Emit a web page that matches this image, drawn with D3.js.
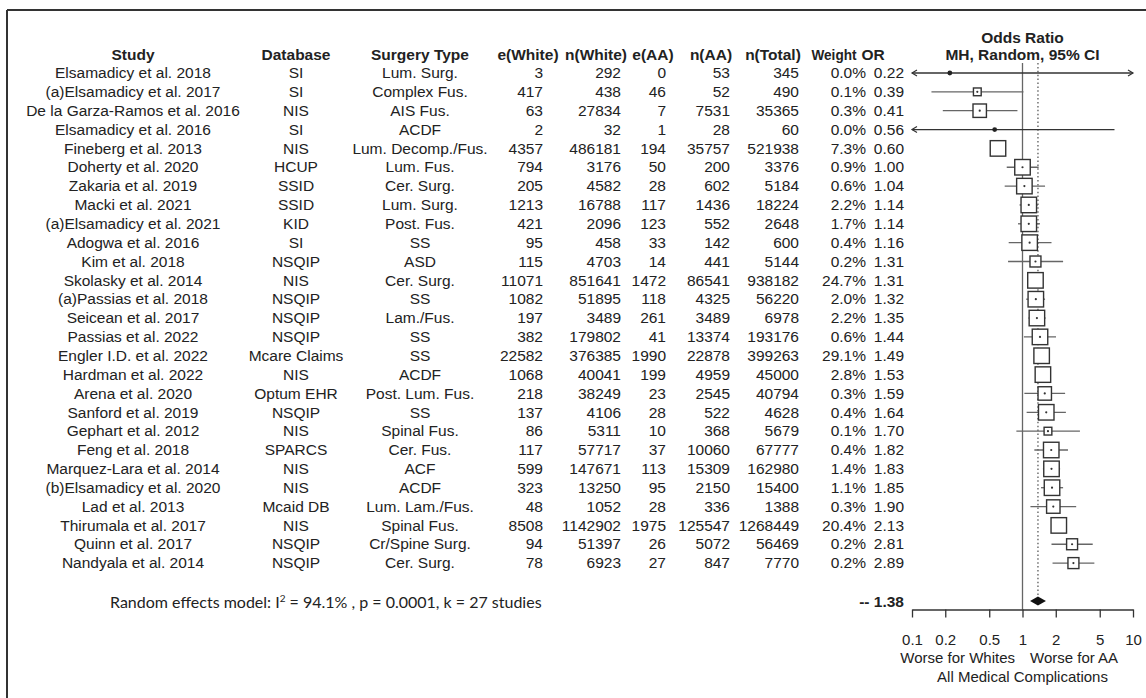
<!DOCTYPE html>
<html>
<head>
<meta charset="utf-8">
<script src="https://cdn.jsdelivr.net/npm/d3@7"></script>
<style>
  html, body { margin: 0; padding: 0; background: #fff; }
  svg { display: block; }
  text { font-family: "Liberation Sans", Arial, sans-serif; fill: #222; }
</style>
</head>
<body>
<svg id="chart" width="1146" height="698"></svg>
<script>
// ---- Study-level data ----
const studies = [
  "Elsamadicy et al. 2018", "(a)Elsamadicy et al. 2017", "De la Garza-Ramos et al. 2016",
  "Elsamadicy et al. 2016", "Fineberg et al. 2013", "Doherty et al. 2020", "Zakaria et al. 2019",
  "Macki et al. 2021", "(a)Elsamadicy et al. 2021", "Adogwa et al. 2016", "Kim et al. 2018",
  "Skolasky et al. 2014", "(a)Passias et al. 2018", "Seicean et al. 2017", "Passias et al. 2022",
  "Engler I.D. et al. 2022", "Hardman et al. 2022", "Arena et al. 2020", "Sanford et al. 2019",
  "Gephart et al. 2012", "Feng et al. 2018", "Marquez-Lara et al. 2014", "(b)Elsamadicy et al. 2020",
  "Lad et al. 2013", "Thirumala et al. 2017", "Quinn et al. 2017", "Nandyala et al. 2014"
];
const databases = [
  "SI", "SI", "NIS", "SI", "NIS", "HCUP", "SSID", "SSID", "KID", "SI", "NSQIP", "NIS", "NSQIP",
  "NSQIP", "NSQIP", "Mcare Claims", "NIS", "Optum EHR", "NSQIP", "NIS", "SPARCS", "NIS", "NIS",
  "Mcaid DB", "NIS", "NSQIP", "NSQIP"
];
const surgeryTypes = [
  "Lum. Surg.", "Complex Fus.", "AIS Fus.", "ACDF", "Lum. Decomp./Fus.", "Lum. Fus.", "Cer. Surg.",
  "Lum. Surg.", "Post. Fus.", "SS", "ASD", "Cer. Surg.", "SS", "Lam./Fus.", "SS", "SS", "ACDF",
  "Post. Lum. Fus.", "SS", "Spinal Fus.", "Cer. Fus.", "ACF", "ACDF", "Lum. Lam./Fus.",
  "Spinal Fus.", "Cr/Spine Surg.", "Cer. Surg."
];
const eWhite = [3, 417, 63, 2, 4357, 794, 205, 1213, 421, 95, 115, 11071, 1082, 197, 382, 22582,
  1068, 218, 137, 86, 117, 599, 323, 48, 8508, 94, 78];
const nWhite = [292, 438, 27834, 32, 486181, 3176, 4582, 16788, 2096, 458, 4703, 851641, 51895,
  3489, 179802, 376385, 40041, 38249, 4106, 5311, 57717, 147671, 13250, 1052, 1142902, 51397, 6923];
const eAA = [0, 46, 7, 1, 194, 50, 28, 117, 123, 33, 14, 1472, 118, 261, 41, 1990, 199, 23, 28, 10,
  37, 113, 95, 28, 1975, 26, 27];
const nAA = [53, 52, 7531, 28, 35757, 200, 602, 1436, 552, 142, 441, 86541, 4325, 3489, 13374,
  22878, 4959, 2545, 522, 368, 10060, 15309, 2150, 336, 125547, 5072, 847];
const nTotal = [345, 490, 35365, 60, 521938, 3376, 5184, 18224, 2648, 600, 5144, 938182, 56220,
  6978, 193176, 399263, 45000, 40794, 4628, 5679, 67777, 162980, 15400, 1388, 1268449, 56469, 7770];
const weights = [0.0, 0.1, 0.3, 0.0, 7.3, 0.9, 0.6, 2.2, 1.7, 0.4, 0.2, 24.7, 2.0, 2.2, 0.6, 29.1,
  2.8, 0.3, 0.4, 0.1, 0.4, 1.4, 1.1, 0.3, 20.4, 0.2, 0.2];
const oddsRatios = [0.22, 0.39, 0.41, 0.56, 0.60, 1.00, 1.04, 1.14, 1.14, 1.16, 1.31, 1.31, 1.32,
  1.35, 1.44, 1.49, 1.53, 1.59, 1.64, 1.70, 1.82, 1.83, 1.85, 1.90, 2.13, 2.81, 2.89];
const ciLower = [0.01, 0.15, 0.19, 0.05, 0.54, 0.72, 0.69, 0.94, 0.91, 0.75, 0.74, 1.24, 1.08,
  1.13, 1.03, 1.42, 1.41, 1.04, 1.09, 0.88, 1.28, 1.53, 1.47, 1.18, 2.05, 1.83, 1.87];
const ciUpper = [12.5, 1.02, 0.90, 6.8, 0.66, 1.40, 1.60, 1.38, 1.44, 1.83, 2.33, 1.38, 1.60,
  1.62, 2.01, 1.56, 1.66, 2.43, 2.47, 3.31, 2.58, 2.19, 2.33, 3.06, 2.21, 4.32, 4.47];

// Pooled random-effects estimate
const summaryOR = 1.38, summaryLower = 1.17, summaryUpper = 1.63;
const axisTicks = [0.1, 0.2, 0.5, 1, 2, 5, 10];
const axisTickLabels = ["0.1", "0.2", "0.5", "1", "2", "5", "10"];

const headers = ["Study", "Database", "Surgery Type", "e(White)", "n(White)", "e(AA)", "n(AA)",
  "n(Total)", "Weight", "OR"];

// ---- Layout ----
const svg = d3.select("#chart");
const FS = 15.5;
const rowTop = 73, rowStep = 18.85;
const yRow = i => rowTop + i * rowStep;
const axisY = 609.5, plotTop = 63;

const x = d3.scaleLog().domain([0.1, 10]).range([912, 1133]);
const squareSize = d3.scaleSqrt().domain([0, 0.4]).range([0, 15.5]).clamp(true);

// Frame
svg.append("line").attr("x1", 7).attr("x2", 1146).attr("y1", 10).attr("y2", 10)
  .attr("stroke", "#333").attr("stroke-width", 2);
svg.append("line").attr("x1", 7).attr("x2", 7).attr("y1", 10).attr("y2", 698)
  .attr("stroke", "#333").attr("stroke-width", 2);

// Column definitions: header anchor, value anchor
const fmtW = d => d.toFixed(1) + "%";
const fmtOR = d => d.toFixed(2);
const columns = [
  { values: studies, hx: 133, vx: 133, anchor: "middle" },
  { values: databases, hx: 296, vx: 296, anchor: "middle" },
  { values: surgeryTypes, hx: 420, vx: 420, anchor: "middle" },
  { values: eWhite, hx: 528, vx: 543, anchor: "end" },
  { values: nWhite, hx: 596, vx: 621, anchor: "end" },
  { values: eAA, hx: 653, vx: 666, anchor: "end" },
  { values: nAA, hx: 711, vx: 730, anchor: "end" },
  { values: nTotal, hx: 773, vx: 799, anchor: "end" },
  { values: weights.map(fmtW), hx: 834, vx: 866, anchor: "end", hw: 45 },
  { values: oddsRatios.map(fmtOR), hx: 873, vx: 904, anchor: "end" }
];

const table = svg.append("g").attr("font-size", FS);
columns.forEach((col, ci) => {
  const h = table.append("text")
    .attr("x", col.hx).attr("y", 59.5)
    .attr("text-anchor", "middle")
    .attr("font-weight", "bold")
    .text(headers[ci]);
  if (col.hw) h.attr("textLength", col.hw).attr("lengthAdjust", "spacingAndGlyphs");
  table.selectAll(null)
    .data(col.values)
    .enter().append("text")
    .attr("x", col.vx)
    .attr("y", (d, i) => yRow(i) + 5.2)
    .attr("text-anchor", col.anchor)
    .text(d => d);
});

// Forest panel headings
svg.append("text").attr("x", 1022.5).attr("y", 42.5).attr("text-anchor", "middle")
  .attr("font-weight", "bold").attr("font-size", FS).text("Odds Ratio");
svg.append("text").attr("x", 1022.5).attr("y", 59.5).attr("text-anchor", "middle")
  .attr("font-weight", "bold").attr("font-size", FS).text("MH, Random, 95% CI");

// Reference lines: null effect and pooled estimate
svg.append("line").attr("x1", x(1)).attr("x2", x(1)).attr("y1", plotTop).attr("y2", axisY)
  .attr("stroke", "#666").attr("stroke-width", 1.3);
svg.append("line").attr("x1", x(summaryOR)).attr("x2", x(summaryOR))
  .attr("y1", plotTop).attr("y2", 596)
  .attr("stroke", "#666").attr("stroke-width", 1.4).attr("stroke-dasharray", "1.5,2.4");

// Study estimates
const [dMin, dMax] = x.domain();
const rows = studies.map((s, i) => ({
  i, or: oddsRatios[i], lo: ciLower[i], hi: ciUpper[i], w: weights[i]
}));
const marks = svg.append("g");
rows.forEach(r => {
  const y = yRow(r.i);
  const lo = Math.max(r.lo, dMin), hi = Math.min(r.hi, dMax);
  const xl = x(lo), xh = x(hi), xc = x(r.or);
  const g = marks.append("g");
  const lineColor = r.w === 0 ? "#333" : "#666";
  g.append("line").attr("x1", xl).attr("x2", xh).attr("y1", y).attr("y2", y)
    .attr("stroke", lineColor).attr("stroke-width", 1.3);
  if (r.lo < dMin) {
    g.append("path").attr("d", `M${xl + 5},${y - 3}L${xl},${y}L${xl + 5},${y + 3}`)
      .attr("fill", "none").attr("stroke", lineColor).attr("stroke-width", 1.2);
  }
  if (r.hi > dMax) {
    g.append("path").attr("d", `M${xh - 5},${y - 3}L${xh},${y}L${xh - 5},${y + 3}`)
      .attr("fill", "none").attr("stroke", lineColor).attr("stroke-width", 1.2);
  }
  const s = squareSize(r.w);
  if (s > 0) {
    g.append("rect").attr("x", xc - s / 2).attr("y", y - s / 2)
      .attr("width", s).attr("height", s)
      .attr("fill", "#fff").attr("stroke", "#333").attr("stroke-width", 1.4);
    // centre point only where the interval reaches past the box
    if (xl < xc - s / 2 || xh > xc + s / 2) {
      g.append("circle").attr("cx", xc).attr("cy", y).attr("r", 1.1).attr("fill", "#333");
    }
  } else {
    g.append("circle").attr("cx", xc).attr("cy", y).attr("r", 2.4).attr("fill", "#222");
  }
});

// Pooled estimate row
const ySum = 601;
svg.append("path")
  .attr("d", `M${x(summaryLower)},${ySum}L${x(summaryOR)},${ySum - 4.5}L${x(summaryUpper)},${ySum}L${x(summaryOR)},${ySum + 4.5}Z`)
  .attr("fill", "#111");
svg.append("text").attr("x", 904).attr("y", 606.5).attr("text-anchor", "end")
  .attr("font-weight", "bold").attr("font-size", FS).text("-- " + summaryOR.toFixed(2));

const model = svg.append("text").attr("x", 110).attr("y", 608)
  .style("font-family", "Lato, 'Open Sans', sans-serif").attr("font-size", 16).attr("fill", "#222");
model.append("tspan").text("Random effects model: I");
model.append("tspan").attr("font-size", 10).attr("dy", -6).text("2");
model.append("tspan").attr("dy", 6).text(" = 94.1% , p = 0.0001, k = 27 studies");

// Axis
const axis = d3.axisBottom(x)
  .tickValues(axisTicks)
  .tickFormat((d, i) => axisTickLabels[i])
  .tickSize(8).tickSizeOuter(0).tickPadding(17);
const ag = svg.append("g").attr("transform", `translate(0,${axisY})`).call(axis);
ag.select(".domain").attr("stroke", "#333").attr("stroke-width", 1.3);
ag.selectAll(".tick line").attr("stroke", "#333").attr("stroke-width", 1.3);
ag.selectAll(".tick text").attr("font-size", 15).attr("fill", "#222")
  .style("font-family", "'Liberation Sans', Arial, sans-serif");

svg.append("text").attr("x", 1015).attr("y", 662.5).attr("text-anchor", "end")
  .attr("font-size", 15).text("Worse for Whites");
svg.append("text").attr("x", 1030).attr("y", 662.5).attr("text-anchor", "start")
  .attr("font-size", 15).text("Worse for AA");
svg.append("text").attr("x", 1022.5).attr("y", 682).attr("text-anchor", "middle")
  .attr("font-size", 15).text("All Medical Complications");
</script>
</body>
</html>
